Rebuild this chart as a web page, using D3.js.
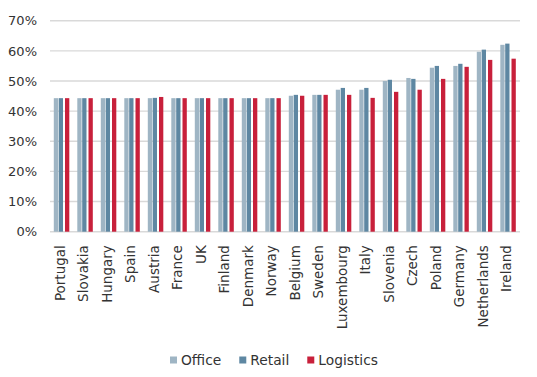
<!DOCTYPE html>
<html>
<head>
<meta charset="utf-8">
<script src="https://cdn.jsdelivr.net/npm/d3@7"></script>
<style>
  body { margin: 0; background: #fff; }
  svg { display: block; font-family: 'DejaVu Sans', sans-serif; }
</style>
</head>
<body>
<div id="chart"></div>
<script>
// Data (values in %)
const countries = ['Portugal', 'Slovakia', 'Hungary', 'Spain', 'Austria', 'France', 'UK', 'Finland', 'Denmark', 'Norway',
  'Belgium', 'Sweden', 'Luxembourg', 'Italy', 'Slovenia', 'Czech', 'Poland', 'Germany', 'Netherlands', 'Ireland']
const office = [44.3, 44.3, 44.3, 44.3, 44.3, 44.3, 44.3, 44.3, 44.3, 44.3, 45.1, 45.4, 47.1, 47.1, 50.0, 51.0, 54.4, 55.0, 59.7, 62.0]
const retail = [44.3, 44.3, 44.3, 44.3, 44.4, 44.3, 44.3, 44.3, 44.3, 44.3, 45.4, 45.4, 47.7, 47.7, 50.4, 50.7, 55.0, 55.7, 60.4, 62.4]
const logistics = [44.3, 44.3, 44.3, 44.3, 44.7, 44.3, 44.3, 44.3, 44.3, 44.3, 45.1, 45.4, 45.4, 44.4, 46.4, 47.1, 50.7, 54.7, 57.0, 57.4]
const seriesNames = ['Office', 'Retail', 'Logistics']
const yTicks = [0, 10, 20, 30, 40, 50, 60, 70]

const colors = { Office: '#9fb5c4', Retail: '#5e87a2', Logistics: '#c8203b' }
const subOffset = { Office: 3.8, Retail: 8.7, Logistics: 15 }
const barWidth = 4.3

const width = 537
const height = 377
const margins = { left: 50, right: 17, top: 20.7, bottom: 145.3 }

const series = [
  { name: 'Office', data: office },
  { name: 'Retail', data: retail },
  { name: 'Logistics', data: logistics }
]

const xScale = d3.scaleBand()
  .domain(countries)
  .range([margins.left, width - margins.right])

const yScale = d3.scaleLinear()
  .domain([0, 70])
  .range([height - margins.bottom, margins.top])

const svg = d3.select('#chart').append('svg')
  .attr('width', width)
  .attr('height', height)
  .attr('viewBox', [0, 0, width, height].join(' '))

// Gridlines
svg.append('g')
  .selectAll('line')
  .data(yTicks)
  .enter().append('line')
  .attr('x1', margins.left)
  .attr('x2', width - margins.right)
  .attr('y1', d => yScale(d))
  .attr('y2', d => yScale(d))
  .attr('stroke', '#d9d9d9')
  .attr('stroke-width', 1.4)

// Y axis labels
const yAxis = svg.append('g')
  .attr('transform', `translate(${margins.left}, 0)`)
  .call(d3.axisLeft(yScale).tickValues(yTicks).tickSize(0).tickPadding(13).tickFormat(d => d + '%'))
yAxis.select('.domain').remove()
yAxis.selectAll('text')
  .attr('fill', '#333')
  .style('font-size', '13px')
  .style('font-family', "'DejaVu Sans', sans-serif")

// Bars
series.forEach(s => {
  svg.append('g')
    .selectAll('rect')
    .data(s.data)
    .enter().append('rect')
    .attr('x', (d, i) => xScale(countries[i]) + subOffset[s.name])
    .attr('width', barWidth)
    .attr('y', d => yScale(d))
    .attr('height', d => yScale(0) - yScale(d))
    .attr('fill', colors[s.name])
})

// X axis labels
const xAxis = svg.append('g')
  .attr('transform', `translate(-1.8, ${yScale(0)})`)
  .call(d3.axisBottom(xScale).tickSize(0).tickPadding(0))
xAxis.select('.domain').remove()
xAxis.selectAll('text')
  .attr('transform', 'rotate(-90)')
  .attr('x', -13.5)
  .attr('y', 0)
  .attr('dy', '0.35em')
  .style('text-anchor', 'end')
  .attr('fill', '#333')
  .style('font-size', '13.5px')
  .style('font-family', "'DejaVu Sans', sans-serif")

// Legend
const legend = svg.append('g')
  .attr('transform', `translate(170, 360)`)
let lx = 0
seriesNames.forEach(name => {
  const item = legend.append('g').attr('transform', `translate(${lx}, 0)`)
  item.append('rect')
    .attr('x', 0)
    .attr('y', -3.5)
    .attr('width', 7)
    .attr('height', 7)
    .attr('fill', colors[name])
  const t = item.append('text')
    .attr('x', 11)
    .attr('y', 0)
    .attr('dy', '0.35em')
    .attr('fill', '#333')
    .style('font-size', '13.8px')
    .text(name)
  lx += 11 + t.node().getComputedTextLength() + 18
})
</script>
</body>
</html>
